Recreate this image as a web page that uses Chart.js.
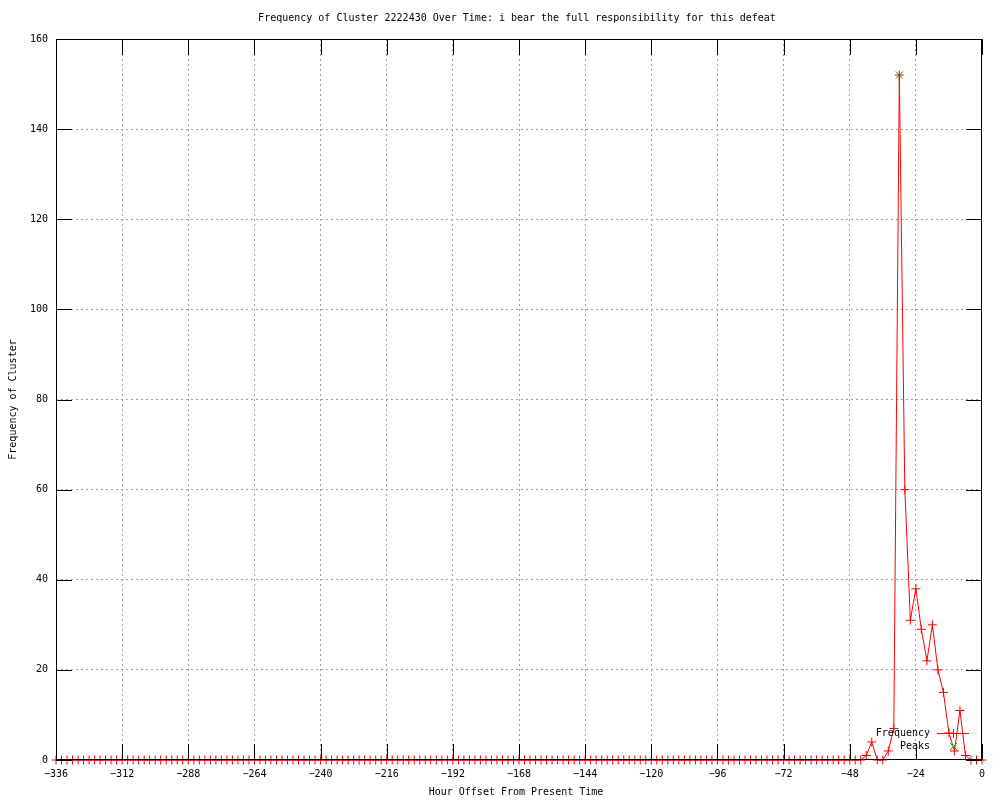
<!DOCTYPE html>
<html>
<head>
<meta charset="utf-8">
<title>Frequency of Cluster 2222430</title>
<script src="https://cdn.jsdelivr.net/npm/chart.js@4.4.0/dist/chart.umd.min.js"></script>
<style>
  html, body { margin: 0; padding: 0; background: #fff; }
  #wrap { width: 1000px; height: 800px; }
</style>
</head>
<body>
<div id="wrap"><canvas id="cluster-chart" width="1000" height="800"></canvas></div>
<script>
// Hour offsets, one sample every 2 hours from -336 to 0
const hours = [];
for (let h = -336; h <= 0; h += 2) hours.push(h);

// Frequency per sample
const frequency = [
  0, 0, 0, 0, 0, 0, 0, 0, 0, 0, 0, 0, 0, 0, 0, 0, 0, 0, 0, 0, 0,
  0, 0, 0, 0, 0, 0, 0, 0, 0, 0, 0, 0, 0, 0, 0, 0, 0, 0, 0, 0, 0,
  0, 0, 0, 0, 0, 0, 0, 0, 0, 0, 0, 0, 0, 0, 0, 0, 0, 0, 0, 0, 0,
  0, 0, 0, 0, 0, 0, 0, 0, 0, 0, 0, 0, 0, 0, 0, 0, 0, 0, 0, 0, 0,
  0, 0, 0, 0, 0, 0, 0, 0, 0, 0, 0, 0, 0, 0, 0, 0, 0, 0, 0, 0, 0,
  0, 0, 0, 0, 0, 0, 0, 0, 0, 0, 0, 0, 0, 0, 0, 0, 0, 0, 0, 0, 0,
  0, 0, 0, 0, 0, 0, 0, 0, 0, 0, 0, 0, 0, 0, 0, 0, 0, 0, 0, 0, 0,
  // -42 .. 0
  1, 4, 0, 0, 2, 7, 152, 60, 31, 38, 29, 22, 30, 20, 15, 6, 2, 11, 1, 0, 0, 0
];

// Detected peaks
const peakHours = [-30];
const peakValues = [152];

// Axis ticks
const xTicks = [-336, -312, -288, -264, -240, -216, -192, -168, -144, -120, -96, -72, -48, -24, 0];
const yTicks = [0, 20, 40, 60, 80, 100, 120, 140, 160];

const FONT = '"DejaVu Sans Mono", "Liberation Mono", monospace';
const FONT_SIZE = 10;
const RED = '#ff0000';
const GREEN = '#00b000';

function drawCross(ctx, x, y, r) {
  ctx.beginPath();
  ctx.moveTo(x - r, y); ctx.lineTo(x + r, y);
  ctx.moveTo(x, y - r); ctx.lineTo(x, y + r);
  ctx.stroke();
}
function drawX(ctx, x, y, r) {
  ctx.beginPath();
  ctx.moveTo(x - r, y - r); ctx.lineTo(x + r, y + r);
  ctx.moveTo(x - r, y + r); ctx.lineTo(x + r, y - r);
  ctx.stroke();
}

// gnuplot style frame: border, inward mirrored ticks, titles and key
const gnuplotFrame = {
  id: 'gnuplotFrame',
  afterDatasetsDraw(chart) {
    const { ctx, chartArea: a, scales } = chart;
    ctx.save();
    ctx.strokeStyle = '#000';
    ctx.lineWidth = 1;
    ctx.strokeRect(a.left + 0.5, a.top + 0.5, a.right - a.left - 1, a.bottom - a.top - 1);
    const len = 16;
    ctx.beginPath();
    xTicks.forEach(v => {
      const px = Math.round(scales.x.getPixelForValue(v)) + 0.5;
      ctx.moveTo(px, a.bottom); ctx.lineTo(px, a.bottom - len);
      ctx.moveTo(px, a.top); ctx.lineTo(px, a.top + len);
    });
    yTicks.forEach(v => {
      const py = Math.round(scales.y.getPixelForValue(v)) + 0.5;
      ctx.moveTo(a.left, py); ctx.lineTo(a.left + len, py);
      ctx.moveTo(a.right, py); ctx.lineTo(a.right - len, py);
    });
    ctx.stroke();

    // titles
    ctx.fillStyle = '#000';
    ctx.font = FONT_SIZE + 'px ' + FONT;
    ctx.textAlign = 'center';
    ctx.textBaseline = 'middle';
    ctx.fillText('Frequency of Cluster 2222430 Over Time: i bear the full responsibility for this defeat', 517, 18);
    ctx.fillText('Hour Offset From Present Time', 516, 792);
    ctx.save();
    ctx.translate(13, (a.top + a.bottom) / 2);
    ctx.rotate(-Math.PI / 2);
    ctx.fillText('Frequency of Cluster', 0, 0);
    ctx.restore();

    // key
    ctx.textAlign = 'right';
    ctx.fillText('Frequency', 930, 733);
    ctx.fillText('Peaks', 930, 746);
    ctx.strokeStyle = RED;
    ctx.beginPath();
    ctx.moveTo(937, 733.5); ctx.lineTo(969, 733.5);
    ctx.stroke();
    drawCross(ctx, 953.5, 733.5, 4.5);
    ctx.strokeStyle = GREEN;
    drawX(ctx, 953.5, 746.5, 3.5);
    ctx.restore();
  }
};

const ctx1 = document.getElementById('cluster-chart');
const clusterChart = new Chart(ctx1, {
  type: 'line',
  data: {
    datasets: [{
      label: 'Peaks',
      data: peakHours.map((h, i) => ({ x: h, y: peakValues[i] })),
      showLine: false,
      pointStyle: 'crossRot',
      pointRadius: 5,
      pointBorderColor: GREEN,
      pointBorderWidth: 1,
      clip: false,
      order: 2
    },
    {
      label: 'Frequency',
      data: hours.map((h, i) => ({ x: h, y: frequency[i] })),
      borderColor: RED,
      borderWidth: 1,
      tension: 0,
      pointStyle: 'cross',
      pointRadius: 4.5,
      pointBorderColor: RED,
      pointBorderWidth: 1,
      clip: false,
      order: 1
    }]
  },
  options: {
    responsive: false,
    animation: false,
    events: [],
    layout: {
      padding: { left: 0, right: 18, top: 39, bottom: 0 }
    },
    plugins: {
      legend: { display: false },
      title: { display: false },
      tooltip: { enabled: false }
    },
    scales: {
      x: {
        type: 'linear',
        min: -336,
        max: 0,
        afterBuildTicks: scale => { scale.ticks = xTicks.map(v => ({ value: v })); },
        afterFit: scale => { scale.height = 40; },
        ticks: {
          color: '#000',
          font: { family: FONT, size: FONT_SIZE },
          padding: 8,
          maxRotation: 0,
          autoSkip: false,
          callback: v => (v < 0 ? '\u2212' + Math.abs(v) : String(v))
        },
        grid: {
          color: ctx => (ctx.tick && (ctx.tick.value === -336 || ctx.tick.value === 0)) ? 'rgba(0,0,0,0)' : '#a0a0a0',
          lineWidth: 1,
          drawTicks: false
        },
        border: { display: false, dash: [2, 3] }
      },
      y: {
        min: 0,
        max: 160,
        afterBuildTicks: scale => { scale.ticks = yTicks.map(v => ({ value: v })); },
        afterFit: scale => { scale.width = 56; },
        ticks: {
          color: '#000',
          font: { family: FONT, size: FONT_SIZE },
          padding: 8
        },
        grid: {
          color: ctx => (ctx.tick && (ctx.tick.value === 0 || ctx.tick.value === 160)) ? 'rgba(0,0,0,0)' : '#a0a0a0',
          lineWidth: 1,
          drawTicks: false
        },
        border: { display: false, dash: [2, 3] }
      }
    }
  },
  plugins: [gnuplotFrame]
});
</script>
</body>
</html>
